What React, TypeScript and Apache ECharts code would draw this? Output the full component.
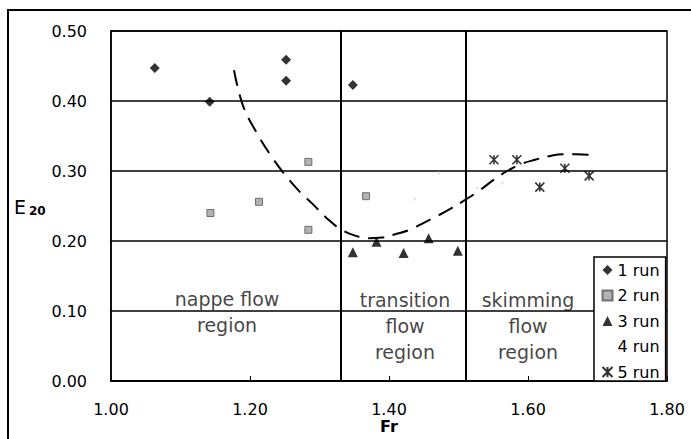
import React, { useEffect, useRef } from "react";
import * as echarts from "echarts";

const run1X = [1.063, 1.142, 1.252, 1.252, 1.348];
const run1Y = [0.447, 0.399, 0.459, 0.429, 0.423];
const run2X = [1.143, 1.213, 1.284, 1.284, 1.367];
const run2Y = [0.24, 0.256, 0.313, 0.216, 0.264];
const run3X = [1.348, 1.382, 1.421, 1.457, 1.499];
const run3Y = [0.184, 0.199, 0.183, 0.204, 0.186];
const run4X = [1.437, 1.472, 1.527, 1.563];
const run4Y = [0.26, 0.297, 0.276, 0.283];
const run5X = [1.551, 1.584, 1.617, 1.653, 1.688];
const run5Y = [0.316, 0.316, 0.277, 0.304, 0.293];

const trendX = [1.177, 1.19, 1.21, 1.23, 1.25, 1.27, 1.29, 1.31, 1.33, 1.35, 1.37, 1.39, 1.41, 1.43, 1.45, 1.47, 1.49, 1.51, 1.53, 1.55, 1.57, 1.59, 1.61, 1.63, 1.65, 1.67, 1.69];
const trendY = [0.444, 0.393, 0.354, 0.322, 0.295, 0.272, 0.253, 0.233, 0.217, 0.208, 0.204, 0.205, 0.21, 0.216, 0.226, 0.236, 0.247, 0.259, 0.272, 0.287, 0.3, 0.31, 0.316, 0.321, 0.324, 0.324, 0.323];

const regionBounds = [1.335, 1.515];
const regionLabelX = [1.167, 1.423, 1.6];
const regionLabelY = [0.099, 0.079, 0.079];
const regionLabelText = ["nappe flow\nregion", "transition\nflow\nregion", "skimming\nflow\nregion"];

const seriesNames = ["1 run", "2 run", "3 run", "4 run", "5 run"];

const FONT = "'DejaVu Sans', 'Liberation Sans', sans-serif";
const ASTERISK = "path://M0,0L10,10M10,0L0,10M5,0L5,10";

const zip = (xs: number[], ys: number[]) => xs.map((x, i) => [x, ys[i]]);

export default function App() {
  const ref = useRef<HTMLDivElement>(null);
  useEffect(() => {
    if (!ref.current) return;
    const chart = echarts.init(ref.current, null, { renderer: "svg" });
    chart.setOption({
      animation: false,
      backgroundColor: "#fff",
      grid: {
        left: 111,
        top: 31,
        right: 24,
        bottom: 58,
        show: true,
        borderColor: "#000",
        borderWidth: 1.5,
        backgroundColor: "transparent",
        outerBoundsMode: "none",
        containLabel: false,
      },
      xAxis: {
        type: "value",
        min: 1,
        max: 1.8,
        interval: 0.2,
        name: "Fr",
        nameLocation: "middle",
        nameGap: 37,
        nameMoveOverlap: false,
        nameTextStyle: { fontFamily: FONT, fontSize: 16, fontWeight: "bold", color: "#000" },
        axisLine: { show: true, lineStyle: { color: "#000", width: 1.5 } },
        axisTick: { show: true, inside: true, length: 5, lineStyle: { color: "#000" } },
        axisLabel: {
          margin: 20,
          fontFamily: FONT,
          fontSize: 16,
          color: "#000",
          formatter: (v: number) => v.toFixed(2),
        },
        splitLine: { show: false },
      },
      yAxis: {
        type: "value",
        min: 0,
        max: 0.5,
        interval: 0.1,
        axisLine: { show: true, lineStyle: { color: "#000", width: 1.5 } },
        axisTick: { show: false },
        axisLabel: {
          margin: 24,
          fontFamily: FONT,
          fontSize: 16,
          color: "#000",
          formatter: (v: number) => v.toFixed(2),
        },
        splitLine: { show: true, lineStyle: { color: "#000", width: 1.5 } },
      },
      legend: {
        orient: "vertical",
        left: 594,
        top: 257,
        data: [
          { name: "1 run" },
          { name: "2 run" },
          { name: "3 run" },
          { name: "4 run", icon: "none" },
          { name: "5 run" },
        ],
        backgroundColor: "#fff",
        borderColor: "#000",
        borderWidth: 1.5,
        borderRadius: 0,
        padding: [5, 6, 1, 6],
        itemWidth: 10,
        itemHeight: 10,
        itemGap: 9.5,
        textStyle: { fontFamily: FONT, fontSize: 16, color: "#000", lineHeight: 16 },
        selectedMode: false,
      },
      graphic: [
        {
          type: "text",
          left: 14,
          top: 197,
          style: { text: "E", font: `19px ${FONT}`, fill: "#000" },
        },
        {
          type: "text",
          left: 29,
          top: 205,
          style: { text: "20", font: `bold 12px ${FONT}`, fill: "#000" },
        },
      ],
      series: [
        {
          name: seriesNames[0],
          type: "scatter",
          symbol: "diamond",
          symbolSize: 10,
          itemStyle: { color: "#000" },
          data: zip(run1X, run1Y),
          z: 5,
        },
        {
          name: seriesNames[1],
          type: "scatter",
          symbol: "rect",
          symbolSize: 7,
          itemStyle: { color: "#a0a0a0", borderColor: "#555", borderWidth: 1 },
          data: zip(run2X, run2Y),
          z: 5,
        },
        {
          name: seriesNames[2],
          type: "scatter",
          symbol: "triangle",
          symbolSize: 10,
          itemStyle: { color: "#000" },
          data: zip(run3X, run3Y),
          z: 5,
        },
        {
          name: seriesNames[3],
          type: "scatter",
          symbol: "circle",
          symbolSize: 3,
          itemStyle: { color: "#dddddd" },
          data: zip(run4X, run4Y),
          z: 5,
        },
        {
          name: seriesNames[4],
          type: "scatter",
          symbol: ASTERISK,
          symbolSize: 9,
          itemStyle: { color: "none", borderColor: "#000", borderWidth: 1.6 },
          data: zip(run5X, run5Y),
          z: 5,
        },
        {
          name: "trend",
          type: "line",
          smooth: 0.4,
          symbol: "none",
          lineStyle: { color: "#000", width: 2, type: [16, 9] },
          data: zip(trendX, trendY),
          z: 4,
          markLine: {
            silent: true,
            symbol: "none",
            label: { show: false },
            lineStyle: { color: "#000", width: 2, type: "solid" },
            data: regionBounds.map((x) => ({ xAxis: x })),
          },
        },
        {
          name: "regions",
          type: "scatter",
          symbolSize: 0,
          silent: true,
          data: regionLabelX.map((x, i) => ({ value: [x, regionLabelY[i]], text: regionLabelText[i] })),
          label: {
            show: true,
            position: "inside",
            formatter: (p: any) => p.data.text,
            fontFamily: FONT,
            fontSize: 19,
            lineHeight: 26,
            color: "#111",
            align: "center",
            verticalAlign: "middle",
          },
          z: 3,
        },
      ],
    });
    return () => chart.dispose();
  }, []);
  return (
    <div
      style={{
        position: "fixed",
        left: 0,
        top: 0,
        width: 691,
        height: 439,
        overflow: "hidden",
        background: "#fff",
      }}
    >
      <div ref={ref} style={{ position: "absolute", left: 0, top: 0, width: 691, height: 439 }} />
      <div
        style={{
          position: "absolute",
          left: 7,
          top: 9,
          width: 720,
          height: 480,
          borderLeft: "2px solid #000",
          borderTop: "2px solid #000",
          pointerEvents: "none",
        }}
      />
    </div>
  );
}
